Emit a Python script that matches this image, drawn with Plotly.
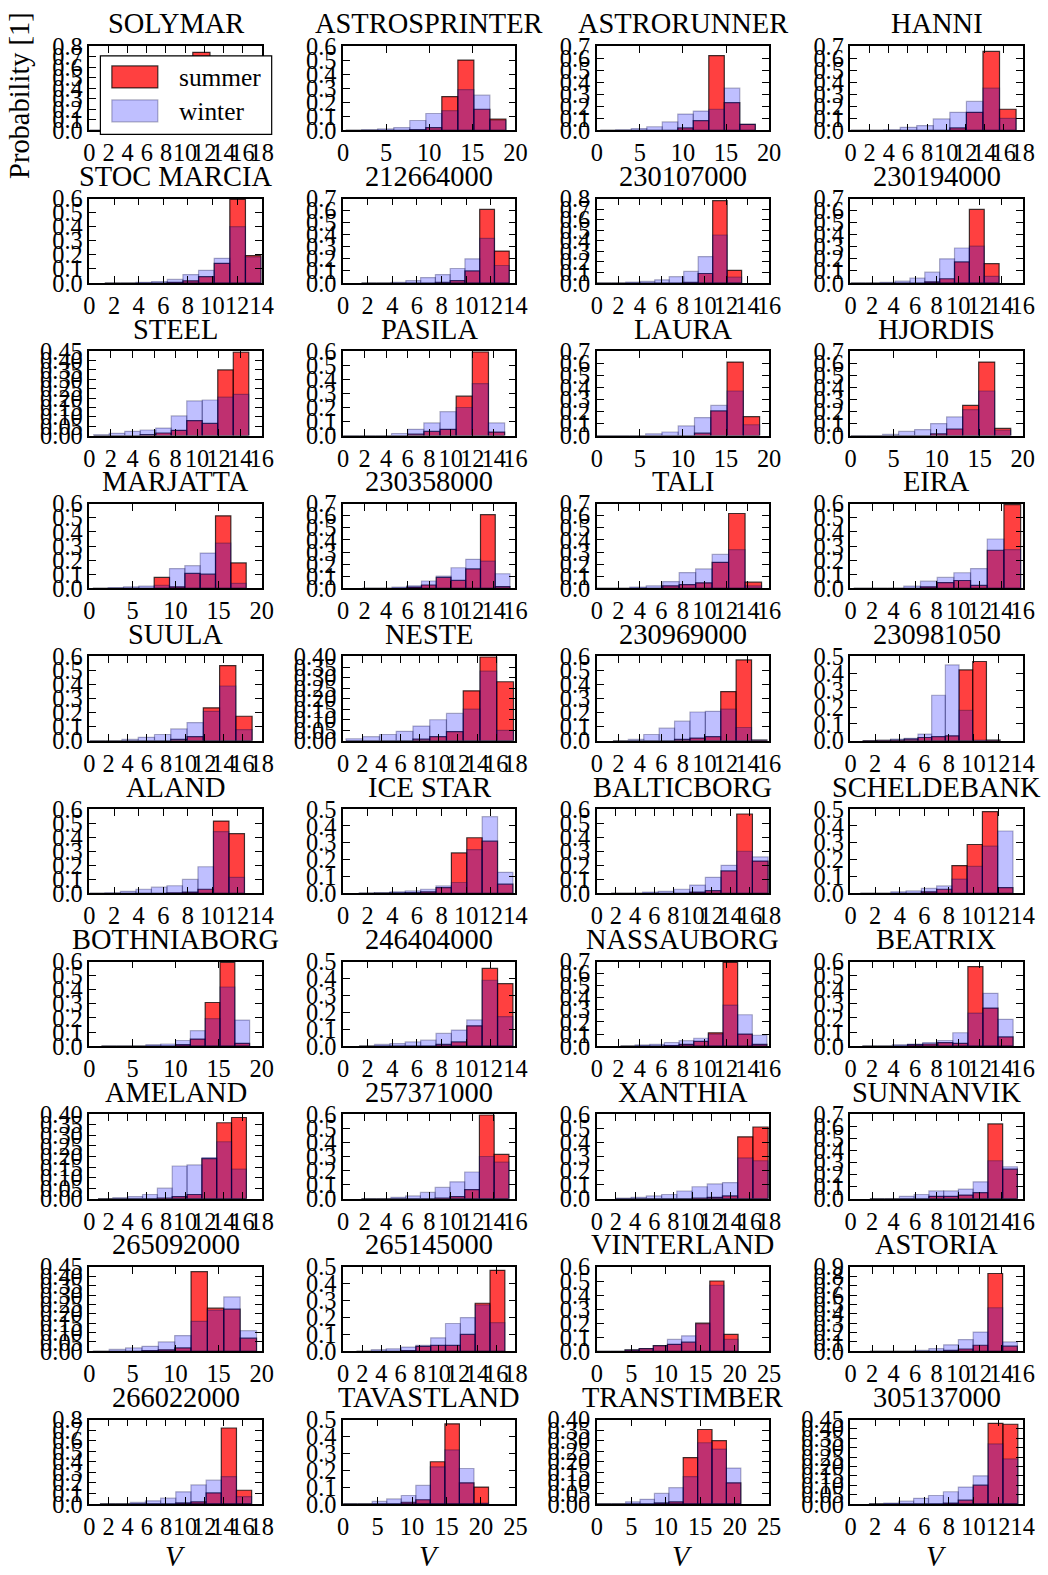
import numpy as np
import plotly.graph_objects as go

# ---------------- data ----------------
names = ["SOLYMAR", "ASTROSPRINTER", "ASTRORUNNER", "HANNI",
         "STOC MARCIA", "212664000", "230107000", "230194000",
         "STEEL", "PASILA", "LAURA", "HJORDIS",
         "MARJATTA", "230358000", "TALI", "EIRA",
         "SUULA", "NESTE", "230969000", "230981050",
         "ALAND", "ICE STAR", "BALTICBORG", "SCHELDEBANK",
         "BOTHNIABORG", "246404000", "NASSAUBORG", "BEATRIX",
         "AMELAND", "257371000", "XANTHIA", "SUNNANVIK",
         "265092000", "265145000", "VINTERLAND", "ASTORIA",
         "266022000", "TAVASTLAND", "TRANSTIMBER", "305137000"]

x_max = [18, 20, 20, 18, 14, 14, 16, 16, 16, 16, 20, 20, 20, 16, 16, 16,
         18, 18, 16, 14, 14, 14, 18, 14, 20, 14, 16, 16, 18, 16, 18, 16,
         20, 18, 25, 16, 18, 25, 25, 14]
x_step = [2, 5, 5, 2, 2, 2, 2, 2, 2, 2, 5, 5, 5, 2, 2, 2,
          2, 2, 2, 2, 2, 2, 2, 2, 5, 2, 2, 2, 2, 2, 2, 2,
          5, 2, 5, 2, 2, 5, 5, 2]
y_max = [0.8, 0.6, 0.7, 0.7, 0.6, 0.7, 0.8, 0.7, 0.45, 0.6, 0.7, 0.7,
         0.6, 0.7, 0.7, 0.6, 0.6, 0.40, 0.6, 0.5, 0.6, 0.5, 0.6, 0.5,
         0.6, 0.5, 0.7, 0.6, 0.40, 0.6, 0.6, 0.7, 0.45, 0.5, 0.6, 0.9,
         0.8, 0.5, 0.40, 0.45]
y_step = [0.1, 0.1, 0.1, 0.1, 0.1, 0.1, 0.1, 0.1, 0.05, 0.1, 0.1, 0.1,
          0.1, 0.1, 0.1, 0.1, 0.1, 0.05, 0.1, 0.1, 0.1, 0.1, 0.1, 0.1,
          0.1, 0.1, 0.1, 0.1, 0.05, 0.1, 0.1, 0.1, 0.05, 0.1, 0.1, 0.1,
          0.1, 0.1, 0.05, 0.05]
bin_lo = [0, 0.3, 0.4, 0, 1.25, 1.5, 0, 0, 0.4, 0, 0, 0,
          0.4, 1.8, 0, 0.3, 0, 0.3, 1.5, 1.03, 0, 1.3, 1.5, 0.8,
          1.4, 1.3, 2.2, 1.1, 0.9, 1.7, 2.0, 1.8, 0.4, 1.4, 0, 1.8,
          1.1, 0, 0, 1.5]
bin_hi = [18, 18.9, 18.4, 17.3, 13.95, 13.5, 13.45, 13.8, 14.8, 15.0, 18.9, 18.6,
          18.2, 15.5, 15.3, 15.8, 17.0, 17.8, 15.8, 12.16, 12.6, 13.8, 17.9, 13.2,
          18.6, 13.8, 15.8, 15.1, 16.4, 15.4, 17.9, 15.5, 19.4, 16.9, 20.5, 15.5,
          16.95, 21.1, 20.9, 13.6]

summer = [
    [0, 0, 0, 0.005, 0.01, 0.04, 0.74, 0.15, 0.04, 0.015],
    [0, 0, 0, 0, 0.005, 0.02, 0.24, 0.50, 0.15, 0.08],
    [0, 0, 0, 0, 0, 0.02, 0.08, 0.62, 0.23, 0.05],
    [0, 0, 0, 0, 0, 0, 0.02, 0.15, 0.655, 0.175],
    [0, 0, 0, 0, 0.005, 0.015, 0.045, 0.14, 0.595, 0.195],
    [0, 0, 0, 0, 0, 0.005, 0.02, 0.10, 0.61, 0.265],
    [0, 0, 0, 0, 0, 0, 0.005, 0.09, 0.78, 0.12],
    [0, 0, 0, 0, 0, 0.01, 0.035, 0.175, 0.61, 0.16],
    [0, 0, 0, 0.005, 0.014, 0.028, 0.08, 0.065, 0.35, 0.445],
    [0, 0, 0, 0, 0.01, 0.03, 0.045, 0.28, 0.595, 0.025],
    [0, 0, 0, 0, 0, 0, 0.02, 0.205, 0.61, 0.157],
    [0, 0, 0, 0, 0, 0.015, 0.055, 0.25, 0.61, 0.06],
    [0, 0, 0, 0, 0.077, 0.01, 0.105, 0.1, 0.515, 0.18],
    [0, 0, 0, 0.01, 0.027, 0.09, 0.065, 0.16, 0.61, 0.014],
    [0, 0, 0, 0, 0.02, 0.03, 0.045, 0.215, 0.62, 0.05],
    [0, 0, 0, 0, 0.01, 0.04, 0.055, 0.02, 0.27, 0.595],
    [0, 0, 0, 0, 0, 0.01, 0.03, 0.235, 0.535, 0.175],
    [0, 0, 0, 0, 0.008, 0.02, 0.044, 0.237, 0.398, 0.28],
    [0, 0, 0, 0, 0.01, 0.02, 0.03, 0.35, 0.575, 0.005],
    [0.002, 0.003, 0.005, 0.01, 0.02, 0.025, 0.03, 0.42, 0.47, 0.005],
    [0, 0, 0, 0, 0, 0.005, 0.01, 0.03, 0.515, 0.425],
    [0, 0.002, 0.003, 0.005, 0.01, 0.035, 0.24, 0.33, 0.31, 0.055],
    [0, 0, 0, 0, 0, 0.01, 0.02, 0.16, 0.565, 0.23],
    [0, 0, 0, 0, 0.01, 0.025, 0.165, 0.29, 0.485, 0.035],
    [0, 0, 0, 0, 0, 0.01, 0.05, 0.31, 0.595, 0.02],
    [0, 0, 0, 0, 0, 0.01, 0.025, 0.12, 0.46, 0.37],
    [0, 0, 0, 0.005, 0.015, 0.04, 0.11, 0.695, 0.1, 0.015],
    [0, 0, 0, 0.01, 0.015, 0.025, 0.02, 0.565, 0.27, 0.065],
    [0, 0, 0, 0, 0.003, 0.01, 0.02, 0.19, 0.36, 0.385],
    [0, 0, 0, 0, 0, 0.005, 0.015, 0.065, 0.595, 0.315],
    [0, 0, 0, 0, 0, 0.005, 0.01, 0.02, 0.44, 0.51],
    [0, 0, 0, 0, 0.02, 0.02, 0.03, 0.05, 0.62, 0.245],
    [0, 0, 0, 0.004, 0.008, 0.018, 0.425, 0.23, 0.225, 0.07],
    [0, 0, 0, 0.005, 0.03, 0.035, 0.035, 0.1, 0.285, 0.48],
    [0, 0, 0.01, 0.02, 0.04, 0.05, 0.065, 0.2, 0.5, 0.12],
    [0, 0, 0, 0, 0, 0.01, 0.025, 0.065, 0.83, 0.055],
    [0, 0, 0, 0, 0, 0.01, 0.02, 0.105, 0.72, 0.13],
    [0, 0, 0, 0, 0.01, 0.025, 0.25, 0.475, 0.125, 0.1],
    [0, 0, 0, 0, 0.005, 0.01, 0.22, 0.353, 0.3, 0.1],
    [0, 0, 0, 0, 0, 0.005, 0.02, 0.1, 0.43, 0.425],
]

winter = [
    [0, 0.005, 0.01, 0.03, 0.07, 0.15, 0.4, 0.25, 0.07, 0.015],
    [0, 0.005, 0.01, 0.02, 0.07, 0.12, 0.14, 0.29, 0.25, 0.07],
    [0, 0.005, 0.015, 0.03, 0.07, 0.135, 0.16, 0.175, 0.35, 0.05],
    [0, 0, 0.005, 0.025, 0.04, 0.095, 0.15, 0.24, 0.35, 0.10],
    [0, 0, 0.005, 0.01, 0.025, 0.06, 0.09, 0.175, 0.40, 0.185],
    [0, 0, 0.005, 0.02, 0.045, 0.07, 0.12, 0.2, 0.37, 0.145],
    [0, 0, 0.008, 0.015, 0.03, 0.06, 0.11, 0.25, 0.455, 0.055],
    [0, 0, 0.005, 0.015, 0.04, 0.09, 0.2, 0.29, 0.305, 0.055],
    [0.005, 0.012, 0.023, 0.03, 0.04, 0.105, 0.185, 0.19, 0.205, 0.22],
    [0, 0, 0, 0.015, 0.045, 0.09, 0.17, 0.2, 0.37, 0.09],
    [0, 0, 0, 0.015, 0.03, 0.08, 0.15, 0.25, 0.37, 0.09],
    [0, 0, 0.01, 0.035, 0.05, 0.1, 0.155, 0.215, 0.37, 0.045],
    [0, 0.005, 0.01, 0.015, 0.02, 0.14, 0.16, 0.25, 0.32, 0.035],
    [0, 0, 0.01, 0.02, 0.06, 0.1, 0.17, 0.24, 0.225, 0.12],
    [0, 0, 0.01, 0.02, 0.055, 0.13, 0.16, 0.28, 0.32, 0.02],
    [0, 0, 0, 0.015, 0.05, 0.077, 0.11, 0.14, 0.35, 0.275],
    [0, 0, 0.01, 0.025, 0.045, 0.085, 0.13, 0.21, 0.39, 0.08],
    [0.01, 0.02, 0.03, 0.045, 0.07, 0.1, 0.13, 0.15, 0.33, 0.05],
    [0, 0.01, 0.045, 0.09, 0.14, 0.205, 0.21, 0.225, 0.095, 0.005],
    [0.002, 0.003, 0.01, 0.015, 0.04, 0.27, 0.45, 0.18, 0.005, 0.003],
    [0, 0.005, 0.015, 0.03, 0.045, 0.055, 0.1, 0.19, 0.44, 0.115],
    [0.003, 0.005, 0.01, 0.015, 0.025, 0.045, 0.065, 0.26, 0.455, 0.125],
    [0, 0, 0.01, 0.015, 0.03, 0.06, 0.115, 0.2, 0.30, 0.26],
    [0, 0, 0.01, 0.015, 0.03, 0.045, 0.085, 0.16, 0.28, 0.37],
    [0, 0, 0, 0.01, 0.015, 0.04, 0.11, 0.195, 0.42, 0.185],
    [0, 0.01, 0.015, 0.025, 0.035, 0.075, 0.095, 0.155, 0.39, 0.175],
    [0, 0.01, 0.015, 0.03, 0.045, 0.065, 0.1, 0.34, 0.26, 0.09],
    [0, 0, 0.01, 0.015, 0.025, 0.04, 0.095, 0.235, 0.375, 0.19],
    [0, 0.005, 0.01, 0.02, 0.05, 0.155, 0.16, 0.195, 0.27, 0.14],
    [0, 0, 0.01, 0.02, 0.045, 0.08, 0.12, 0.19, 0.3, 0.26],
    [0.005, 0.01, 0.02, 0.03, 0.055, 0.085, 0.105, 0.115, 0.29, 0.27],
    [0, 0, 0.02, 0.035, 0.065, 0.065, 0.08, 0.14, 0.315, 0.265],
    [0, 0.01, 0.018, 0.027, 0.05, 0.084, 0.16, 0.22, 0.29, 0.11],
    [0, 0.01, 0.015, 0.025, 0.035, 0.08, 0.165, 0.2, 0.275, 0.17],
    [0, 0, 0.01, 0.02, 0.04, 0.085, 0.11, 0.195, 0.47, 0.085],
    [0, 0, 0, 0.01, 0.03, 0.07, 0.125, 0.205, 0.465, 0.1],
    [0, 0, 0.015, 0.03, 0.055, 0.115, 0.18, 0.225, 0.26, 0.07],
    [0, 0, 0.015, 0.03, 0.05, 0.11, 0.22, 0.32, 0.21, 0.005],
    [0, 0, 0.01, 0.022, 0.05, 0.077, 0.13, 0.29, 0.26, 0.17],
    [0, 0.005, 0.015, 0.03, 0.045, 0.065, 0.09, 0.15, 0.32, 0.24],
]

series_labels = ["summer", "winter"]
y_label = "Probability [1]"
x_label = "V"

# ---------------- styling / geometry ----------------
W, H = 1048, 1575
FONT = "Liberation Serif"
SUMMER_FILL = "rgba(255,0,0,0.75)"
SUMMER_EDGE = "rgba(0,0,0,0.75)"
WINTER_FILL = "rgba(0,0,255,0.25)"
WINTER_EDGE = "rgba(0,0,60,0.3)"

# the page shows up slightly shrunk and shifted; positions below are given
# in picture pixels and mapped back to figure pixels
SHOT_SCALE, SHOT_DX, SHOT_DY = 0.984, 6.0, 12.0
FS = 1 / SHOT_SCALE

COL_LEFT0, COL_PITCH, AX_W = 89.5, 254.0, 172.5
ROW_TOP0, ROW_PITCH, AX_H = 45.0, 152.8, 84.5


def px(x):
    return ((x - SHOT_DX) / SHOT_SCALE) / W


def py(y):
    return 1 - ((y - SHOT_DY) / SHOT_SCALE) / H


fig = go.Figure()
layout = dict(
    width=W, height=H,
    margin=dict(l=0, r=0, t=0, b=0),
    paper_bgcolor="white", plot_bgcolor="white",
    barmode="overlay", showlegend=False,
    font=dict(family=FONT, color="black"),
)
annotations = []
shapes = []

for k, name in enumerate(names):
    r, c = divmod(k, 4)
    sfx = "" if k == 0 else str(k + 1)
    left = COL_LEFT0 + COL_PITCH * c
    top = ROW_TOP0 + ROW_PITCH * r

    edges = np.linspace(bin_lo[k], bin_hi[k], 11)
    centers = (edges[:-1] + edges[1:]) / 2
    bw = edges[1] - edges[0]

    fig.add_trace(go.Bar(
        x=centers, y=summer[k], width=bw, name=series_labels[0],
        marker=dict(color=SUMMER_FILL, line=dict(color=SUMMER_EDGE, width=1.2)),
        xaxis="x" + sfx, yaxis="y" + sfx, showlegend=False, hoverinfo="skip"))
    fig.add_trace(go.Bar(
        x=centers, y=winter[k], width=bw, name=series_labels[1],
        marker=dict(color=WINTER_FILL, line=dict(color=WINTER_EDGE, width=1.2)),
        xaxis="x" + sfx, yaxis="y" + sfx, showlegend=False, hoverinfo="skip"))

    xt = np.arange(0, x_max[k] + 1e-9, x_step[k])
    yt = np.arange(0, y_max[k] + 1e-9, y_step[k])
    dec = 2 if y_step[k] < 0.1 else 1

    common = dict(
        showgrid=False, zeroline=False, showline=True, linecolor="black",
        linewidth=1.5, mirror="allticks", ticks="inside", ticklen=7,
        tickwidth=1, tickcolor="black", tickmode="array", tickangle=0,
        tickfont=dict(family=FONT, size=24 * FS, color="black"),
        fixedrange=True,
    )
    layout["xaxis" + sfx] = dict(
        common, domain=[px(left), px(left + AX_W)], anchor="y" + sfx,
        range=[0, x_max[k]], tickvals=list(xt),
        ticktext=[f"{int(round(v))}" for v in xt])
    layout["yaxis" + sfx] = dict(
        common, domain=[py(top + AX_H), py(top)], anchor="x" + sfx,
        range=[0, y_max[k]], tickvals=list(yt),
        ticktext=[f"{v:.{dec}f}" for v in yt])

    annotations.append(dict(
        text=name, x=px(left + AX_W / 2), y=py(top - 22), xref="paper",
        yref="paper", xanchor="center", yanchor="middle", showarrow=False,
        font=dict(family=FONT, size=28 * FS, color="black")))

    if r == 9:
        annotations.append(dict(
            text=f"<i>{x_label}</i>", x=px(left + AX_W / 2), y=py(1557),
            xref="paper", yref="paper", xanchor="center", yanchor="middle",
            showarrow=False, font=dict(family=FONT, size=28 * FS, color="black")))

# y label of first panel
annotations.append(dict(
    text=y_label, x=px(20), y=py(94), xref="paper",
    yref="paper", xanchor="center", yanchor="middle", textangle=-90,
    showarrow=False, font=dict(family=FONT, size=28 * FS, color="black")))

# legend box inside the first panel
shapes.append(dict(type="rect", xref="paper", yref="paper",
                   x0=px(100.5), x1=px(272), y0=py(133.5), y1=py(55),
                   fillcolor="white", line=dict(color="black", width=1.2),
                   layer="above"))
shapes.append(dict(type="rect", xref="paper", yref="paper",
                   x0=px(112), x1=px(158), y0=py(87), y1=py(65),
                   fillcolor=SUMMER_FILL, line=dict(color=SUMMER_EDGE, width=1.2),
                   layer="above"))
shapes.append(dict(type="rect", xref="paper", yref="paper",
                   x0=px(112), x1=px(158), y0=py(121), y1=py(99),
                   fillcolor=WINTER_FILL, line=dict(color=WINTER_EDGE, width=1.2),
                   layer="above"))
for lbl, yy in zip(series_labels, [76, 110]):
    annotations.append(dict(
        text=lbl, x=px(177), y=py(yy), xref="paper", yref="paper",
        xanchor="left", yanchor="middle", showarrow=False,
        font=dict(family=FONT, size=25 * FS, color="black")))

layout["annotations"] = annotations
layout["shapes"] = shapes
fig.update_layout(**layout)

fig.write_html("out.html", config={"displayModeBar": False},
               post_script="document.body.style.margin='0';")
